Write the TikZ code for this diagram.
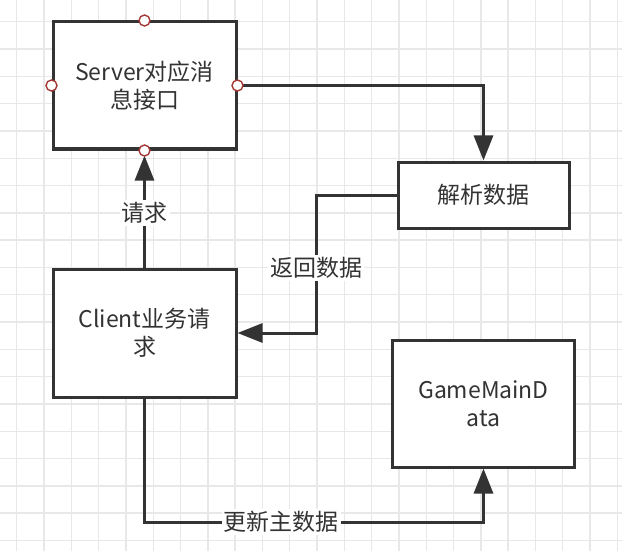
\documentclass[tikz,border=0pt]{standalone}
\usepackage{fontspec}
\setmainfont{Noto Sans CJK SC}
\usetikzlibrary{arrows.meta,calc}
\definecolor{ink}{HTML}{333333}
\definecolor{gridc}{HTML}{E8E8E8}
\definecolor{portc}{HTML}{A33A36}
\begin{document}
\begin{tikzpicture}[x=1pt,y=-1pt,
  box/.style={draw=ink,line width=3pt,fill=white,align=center,font=\fontsize{23}{28}\selectfont,text=ink,inner sep=0pt},
  arr/.style={draw=ink,line width=3pt,-{Triangle[length=25pt,width=19pt]}},
  lbl/.style={fill=white,text=ink,font=\fontsize{23}{28}\selectfont,inner sep=2pt},
  port/.style={circle,draw=portc,line width=1.4pt,fill=white,minimum size=11pt,inner sep=0pt}]
\useasboundingbox (0,0) rectangle (622,551);
\fill[white] (0,0) rectangle (622,551);
\foreach \k in {0,...,22} {\draw[gridc,line width=1.4pt] ({16.7+27.3*\k},0) -- ({16.7+27.3*\k},551);}
\foreach \k in {0,...,19} {\draw[gridc,line width=1.4pt] (0,{21.7+27.3*\k}) -- (622,{21.7+27.3*\k});}

\node[box,minimum width=183pt,minimum height=127pt] (server) at (144.5,85.5) {Server对应消\\息接口};
\node[box,minimum width=171pt,minimum height=66pt] (parse) at (483.5,195) {解析数据};
\node[box,minimum width=183pt,minimum height=128pt] (client) at (144.5,333) {Client业务请\\求};
\node[box,minimum width=182pt,minimum height=127pt] (game) at (483.5,403.5) {GameMainD\\ata};

\coordinate (r1) at (316,195);
\coordinate (b1) at (483.5,522);

\draw[arr,shorten >=5pt] (client.north) -- (server.south);
\node[lbl] (l1) at (144.5,213) {请求};

\draw[arr] (server.east) -| (parse.north);

\draw[arr] (parse.west) -- (r1) |- (client.east);
\node[lbl] (l2) at (316,268) {返回数据};

\draw[arr] (client.south) |- (b1) -- (game.south);
\node[lbl] (l3) at (281,522) {更新主数据};

\node[port] (p1) at (server.north) {};
\node[port] (p2) at (server.west) {};
\node[port] (p3) at (server.east) {};
\node[port] (p4) at (server.south) {};
\end{tikzpicture}
\end{document}
